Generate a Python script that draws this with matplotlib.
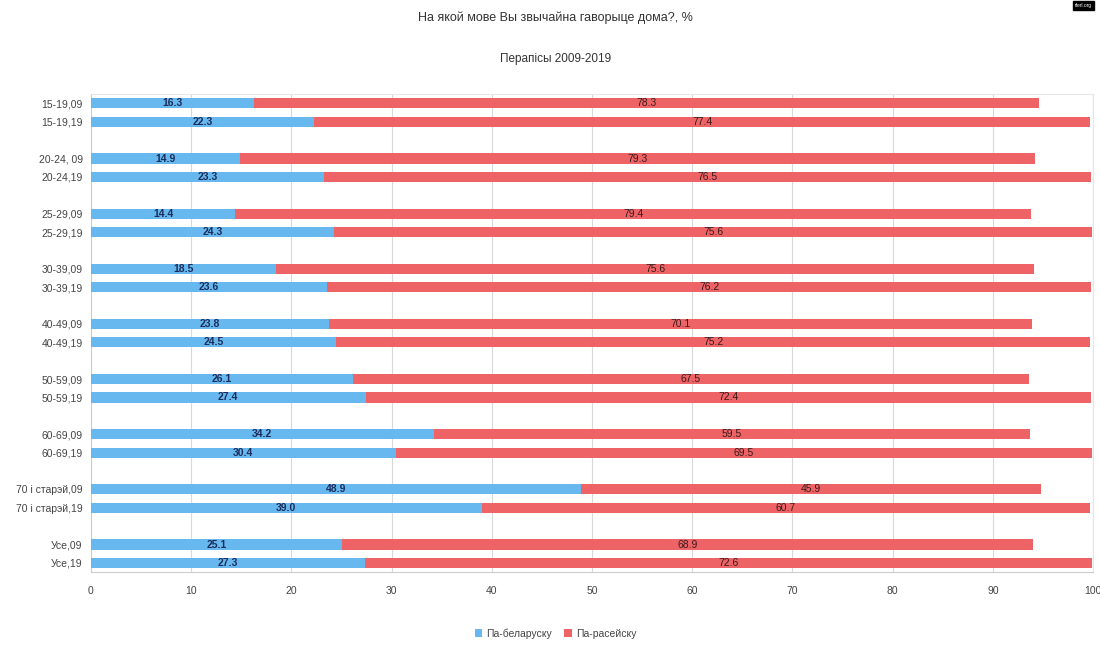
import matplotlib
matplotlib.use("Agg")
import matplotlib.pyplot as plt
import numpy as np

plt.rcParams['font.family'] = ['Liberation Sans', 'DejaVu Sans']

labels = ["15-19,09", "15-19,19", "20-24, 09", "20-24,19", "25-29,09", "25-29,19",
          "30-39,09", "30-39,19", "40-49,09", "40-49,19", "50-59,09", "50-59,19",
          "60-69,09", "60-69,19", "70 і старэй,09", "70 і старэй,19", "Усе,09", "Усе,19"]
belarusian = [16.3, 22.3, 14.9, 23.3, 14.4, 24.3, 18.5, 23.6, 23.8, 24.5,
              26.1, 27.4, 34.2, 30.4, 48.9, 39.0, 25.1, 27.3]
russian = [78.3, 77.4, 79.3, 76.5, 79.4, 75.6, 75.6, 76.2, 70.1, 75.2,
           67.5, 72.4, 59.5, 69.5, 45.9, 60.7, 68.9, 72.6]
series_names = ["Па-беларуску", "Па-расейску"]
xticks = list(range(0, 101, 10))

BLUE = "#66b8ee"
RED = "#ee6366"

# rows come in pairs (2009 / 2019) with an empty slot between groups
pos = np.array([(i // 2) * 3 + (i % 2) for i in range(len(labels))], dtype=float)

fig = plt.figure(figsize=(11, 6.45), dpi=100)
ax = fig.add_axes([0.0827, 0.113, 0.911, 0.741])

bel = np.array(belarusian)
rus = np.array(russian)
h = 0.55
ax.barh(pos, bel, height=h, color=BLUE, label=series_names[0], zorder=3)
ax.barh(pos, rus, left=bel, height=h, color=RED, label=series_names[1], zorder=3)

for y, b, r in zip(pos, bel, rus):
    ax.text(b / 2, y, f"{b:.1f}", ha="center", va="center", fontsize=7.5,
            color="#1c2d5c", fontweight="bold", zorder=4)
    ax.text(b + r / 2, y, f"{r:.1f}", ha="center", va="center", fontsize=7.5,
            color="#3a1a1a", zorder=4)

ax.set_xlim(0, 100)
ax.set_ylim(pos.max() + 0.5, pos.min() - 0.5)
ax.set_xticks(xticks)
ax.set_xticklabels([str(t) for t in xticks], fontsize=7.5, color="#444444")
ax.set_yticks(pos)
ax.set_yticklabels(labels, fontsize=7.5, color="#444444")
ax.tick_params(axis="y", length=0, pad=6)
ax.tick_params(axis="x", length=0, pad=10)
ax.grid(axis="x", color="#d9d9d9", linewidth=0.8, zorder=0)
for side in ["top", "right"]:
    ax.spines[side].set_color("#e6e6e6")
ax.spines["left"].set_color("#cccccc")
ax.spines["bottom"].set_color("#cccccc")

fig.text(0.505, 0.972, "На якой мове Вы звычайна гаворыце дома?, %", ha="center",
         va="center", fontsize=9, color="#333333")
fig.text(0.505, 0.909, "Перапісы 2009-2019", ha="center", va="center",
         fontsize=8.5, color="#333333")

handles, lbls = ax.get_legend_handles_labels()
fig.legend(handles, lbls, loc="center", bbox_to_anchor=(0.505, 0.018), ncol=2,
           frameon=False, fontsize=7.5, handlelength=0.7, handleheight=0.7,
           handletextpad=0.4, columnspacing=1.2, labelcolor="#444444")

# small badge in the corner
fig.text(0.985, 0.995, "rferl.org", ha="center", va="top", fontsize=3.5,
         color="white", bbox=dict(boxstyle="square,pad=0.4", fc="black", ec="black"))

fig.savefig("out.png", dpi=100, facecolor="white")
